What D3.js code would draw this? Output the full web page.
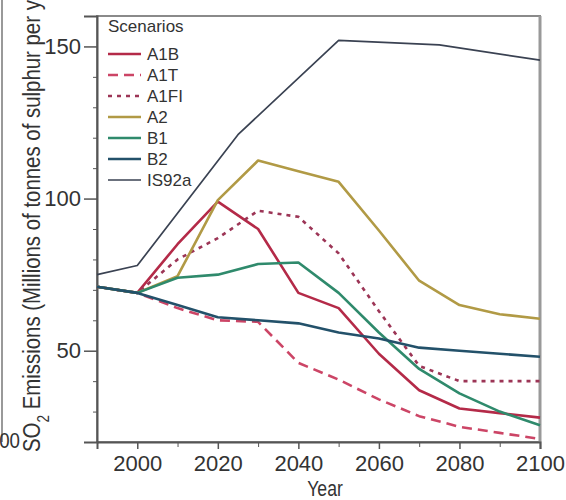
<!DOCTYPE html>
<html>
<head>
<meta charset="utf-8">
<script src="https://cdn.jsdelivr.net/npm/d3@7"></script>
<style>
  body { margin: 0; background: #fff; }
  svg { display: block; }
  text { font-family: "Liberation Sans", Arial, sans-serif; }
</style>
</head>
<body>
<div id="chart"></div>
<script>
const years = [1990, 2000, 2010, 2020, 2030, 2040, 2050, 2060, 2070, 2080, 2090, 2100];
const a1b  = [71, 69, 85, 99, 90, 69, 64, 49, 37, 31, 29.5, 28];
const a1t  = [71, 69, 64, 60, 59.5, 46, 40.5, 34, 28.5, 25, 23, 21];
const a1fi = [71, 69, 80, 87, 96, 94, 82, 63, 45, 40, 40, 40];
const a2   = [71, 69, 74.5, 99.5, 112.5, 109, 105.5, 89.5, 73, 65, 62, 60.5];
const b1   = [71, 69, 74, 75, 78.5, 79, 69, 56, 44, 36, 30, 25.5];
const b2   = [71, 69, 65, 61, 60, 59, 56, 54, 51, 50, 49, 48];
const is92aYears = [1990, 2000, 2025, 2050, 2075, 2100];
const is92a = [75, 78, 121, 152, 150.5, 145.5];

const xTicks = [2000, 2020, 2040, 2060, 2080, 2100];
const yTicks = [50, 100, 150];

const series = [
  { name: "A1B",   years: years, values: a1b,  color: "#b42a48", dash: null,   width: 2.6 },
  { name: "A1T",   years: years, values: a1t,  color: "#cc4566", dash: "10,6", width: 2.6 },
  { name: "A1FI",  years: years, values: a1fi, color: "#9c3556", dash: "4,5",  width: 2.6 },
  { name: "A2",    years: years, values: a2,   color: "#b19a45", dash: null,   width: 2.6 },
  { name: "B1",    years: years, values: b1,   color: "#2f8a6c", dash: null,   width: 2.6 },
  { name: "B2",    years: years, values: b2,   color: "#23516a", dash: null,   width: 2.6 },
  { name: "IS92a", years: is92aYears, values: is92a, color: "#3a4252", dash: null, width: 1.7 }
];

const width = 566;
const height = 500;
const margin = { top: 16, right: 26, bottom: 58, left: 97 };
const innerW = width - margin.left - margin.right;
const innerH = height - margin.top - margin.bottom;

const svg = d3.select("#chart").append("svg")
  .attr("width", width)
  .attr("height", height);

// bits of the neighbouring panel on the left
svg.append("line")
  .attr("x1", 2).attr("x2", 2).attr("y1", 0).attr("y2", 442)
  .attr("stroke", "#999").attr("stroke-width", 2);
svg.append("text")
  .attr("transform", "translate(20,448) scale(0.85,1)")
  .attr("text-anchor", "end")
  .style("font-size", "22px")
  .attr("fill", "#333")
  .text("2100");

const g = svg.append("g")
  .attr("transform", `translate(${margin.left},${margin.top})`);

const x = d3.scaleLinear().domain([1990, 2100]).range([0, innerW]);
const y = d3.scaleLinear().domain([20, 160]).range([innerH, 0]);

// frame
g.append("rect")
  .attr("width", innerW).attr("height", innerH)
  .attr("fill", "none").attr("stroke", "#8a8a8a").attr("stroke-width", 2);
g.append("line")
  .attr("x1", innerW).attr("x2", innerW).attr("y1", 0).attr("y2", innerH)
  .attr("stroke", "#999").attr("stroke-width", 3);

// minor ticks
g.append("g")
  .attr("transform", `translate(0,${innerH})`)
  .call(d3.axisBottom(x).tickValues(d3.range(2010, 2100, 20)).tickSize(5).tickFormat(""))
  .call(a => a.select(".domain").remove())
  .call(a => a.selectAll("line").attr("stroke", "#555"));
g.append("g")
  .call(d3.axisLeft(y).tickValues(d3.range(20, 161, 10).filter(v => v % 50 != 0)).tickSize(4).tickFormat(""))
  .call(a => a.select(".domain").remove())
  .call(a => a.selectAll("line").attr("stroke", "#555"));

// major axes
g.append("g")
  .attr("transform", `translate(0,${innerH})`)
  .call(d3.axisBottom(x).tickValues(xTicks).tickSize(7).tickPadding(6).tickFormat(d3.format("d")))
  .call(a => a.select(".domain").attr("stroke", "#555").attr("stroke-width", 2))
  .call(a => a.selectAll("line").attr("stroke", "#555").attr("stroke-width", 1.5))
  .call(a => a.selectAll("text").style("font-size", "22px").style("font-family", "'Liberation Sans', Arial, sans-serif").attr("fill", "#333"));
g.append("g")
  .call(d3.axisLeft(y).tickValues(yTicks).tickSize(13).tickPadding(3))
  .call(a => a.select(".domain").attr("stroke", "#555").attr("stroke-width", 2))
  .call(a => a.selectAll("line").attr("stroke", "#555").attr("stroke-width", 1.5))
  .call(a => a.selectAll("text").style("font-size", "22px").style("font-family", "'Liberation Sans', Arial, sans-serif").attr("fill", "#333"));

// axis titles
svg.append("text")
  .attr("transform", "translate(325,496) scale(0.8,1)")
  .attr("text-anchor", "middle")
  .style("font-size", "22px")
  .attr("fill", "#333")
  .text("Year");

svg.append("text")
  .attr("transform", "translate(40,452) rotate(-90) scale(0.85,1)")
  .attr("text-anchor", "start")
  .style("font-size", "24px")
  .attr("fill", "#333")
  .html('SO<tspan baseline-shift="sub" font-size="16px">2</tspan> Emissions (Millions of tonnes of sulphur per year)');

// lines
const line = d3.line()
  .x(d => x(d[0]))
  .y(d => y(d[1]));

g.selectAll("path.series")
  .data(series)
  .enter()
  .append("path")
  .attr("class", "series")
  .attr("fill", "none")
  .attr("stroke", d => d.color)
  .attr("stroke-width", d => d.width)
  .attr("stroke-dasharray", d => d.dash)
  .attr("stroke-linejoin", "round")
  .attr("d", d => line(d.years.map((yr, i) => [yr, d.values[i]])));

// legend
const legend = svg.append("g").attr("transform", "translate(108,32)");
legend.append("text")
  .attr("x", 0).attr("y", 0)
  .style("font-size", "17px")
  .attr("fill", "#333")
  .text("Scenarios");
const items = legend.selectAll("g.item")
  .data(series)
  .enter()
  .append("g")
  .attr("class", "item")
  .attr("transform", (d, i) => `translate(0,${22 + i * 21})`);
items.append("line")
  .attr("x1", 0).attr("x2", 33)
  .attr("stroke", d => d.color)
  .attr("stroke-width", d => d.width)
  .attr("stroke-dasharray", d => d.dash);
items.append("text")
  .attr("x", 39).attr("y", 6)
  .style("font-size", "17px")
  .attr("fill", "#333")
  .text(d => d.name);
</script>
</body>
</html>
